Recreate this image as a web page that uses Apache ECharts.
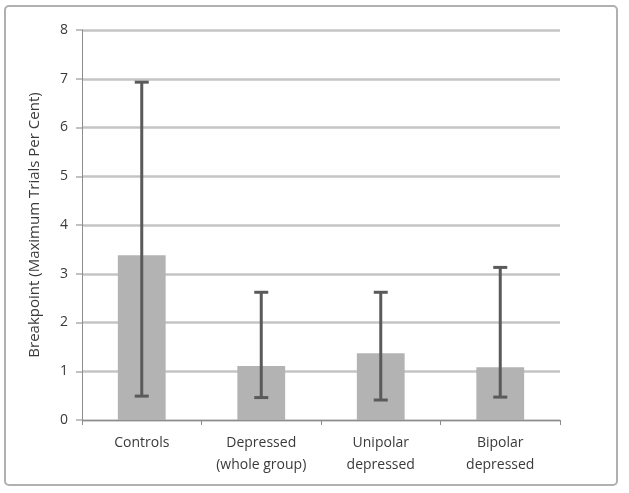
<!DOCTYPE html>
<html><head><meta charset="utf-8">
<script src="https://cdn.jsdelivr.net/npm/echarts@6/dist/echarts.min.js"></script>
<style>html,body{margin:0;padding:0;background:#fff}#c{width:629px;height:493px}</style>
</head><body><div id="c"></div>
<script>
const categories = ['Controls', 'Depressed\n(whole group)', 'Unipolar\ndepressed', 'Bipolar\ndepressed'];
const means = [3.38, 1.11, 1.37, 1.08];
const errLow = [0.49, 0.46, 0.41, 0.47];
const errHigh = [6.93, 2.62, 2.62, 3.13];
const yTicks = [0, 1, 2, 3, 4, 5, 6, 7, 8];

const errData = categories.map((c, i) => [i, errLow[i], errHigh[i]]);
const chart = echarts.init(document.getElementById('c'));
const font = '"Open Sans", "Liberation Sans", sans-serif';
chart.setOption({
  animation: false,
  grid: { left: 82, right: 69, top: 30, bottom: 73 },
  graphic: [{
    type: 'rect', shape: { x: 5, y: 6, width: 612, height: 479, r: 4 },
    style: { fill: 'none', stroke: '#b0b0b0', lineWidth: 2 }, silent: true
  }],
  xAxis: {
    type: 'category', data: categories,
    axisLine: { lineStyle: { color: '#8c8c8c', width: 1 } },
    axisTick: { show: true, length: 5, lineStyle: { color: '#8c8c8c' } },
    axisLabel: { interval: 0, hideOverlap: false, color: '#3a3a3a', fontSize: 14, fontFamily: font, lineHeight: 22, margin: 12 }
  },
  yAxis: {
    type: 'value', min: yTicks[0], max: yTicks[yTicks.length - 1], interval: 1,
    name: 'Breakpoint (Maximum Trials Per Cent)', nameLocation: 'middle', nameGap: 40,
    nameTextStyle: { color: '#3a3a3a', fontSize: 15, fontFamily: font },
    axisLine: { show: true, lineStyle: { color: '#8c8c8c', width: 1 } },
    axisTick: { show: true, length: 6, lineStyle: { color: '#c0c0c0', width: 2 } },
    axisLabel: { color: '#3a3a3a', fontSize: 14, fontFamily: font, margin: 14 },
    splitLine: { lineStyle: { color: '#c4c4c4', width: 2.5 } }
  },
  series: [{
    type: 'bar', data: means, barWidth: '40%',
    itemStyle: { color: '#b3b3b3' }
  }, {
    type: 'custom', data: errData, z: 10,
    renderItem: function (params, api) {
      const x = api.value(0);
      const lo = api.coord([x, api.value(1)]);
      const hi = api.coord([x, api.value(2)]);
      const hw = 7;
      const st = { stroke: '#5a5a5a', lineWidth: 3 };
      return { type: 'group', children: [
        { type: 'line', shape: { x1: lo[0], y1: lo[1], x2: hi[0], y2: hi[1] }, style: st },
        { type: 'line', shape: { x1: lo[0] - hw, y1: lo[1], x2: lo[0] + hw, y2: lo[1] }, style: st },
        { type: 'line', shape: { x1: hi[0] - hw, y1: hi[1], x2: hi[0] + hw, y2: hi[1] }, style: st }
      ]};
    }
  }]
});
</script></body></html>
